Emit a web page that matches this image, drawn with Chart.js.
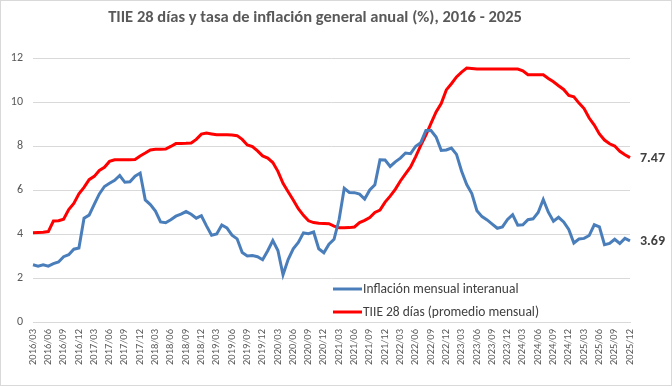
<!DOCTYPE html>
<html>
<head>
<meta charset="utf-8">
<script src="https://cdn.jsdelivr.net/npm/chart.js@4.4.1/dist/chart.umd.min.js"></script>
<style>
html,body{margin:0;padding:0;background:#fff;}
canvas{display:block;}
</style>
</head>
<body>
<canvas id="c" width="672" height="386"></canvas>
<script>
const TITLE = 'TIIE 28 días y tasa de inflación general anual (%), 2016 - 2025';
const SERIES_NAMES = ['Inflación mensual interanual', 'TIIE 28 días (promedio mensual)'];

const months = [
  '2016/03','2016/04','2016/05','2016/06','2016/07','2016/08','2016/09','2016/10','2016/11','2016/12',
  '2017/01','2017/02','2017/03','2017/04','2017/05','2017/06','2017/07','2017/08','2017/09','2017/10','2017/11','2017/12',
  '2018/01','2018/02','2018/03','2018/04','2018/05','2018/06','2018/07','2018/08','2018/09','2018/10','2018/11','2018/12',
  '2019/01','2019/02','2019/03','2019/04','2019/05','2019/06','2019/07','2019/08','2019/09','2019/10','2019/11','2019/12',
  '2020/01','2020/02','2020/03','2020/04','2020/05','2020/06','2020/07','2020/08','2020/09','2020/10','2020/11','2020/12',
  '2021/01','2021/02','2021/03','2021/04','2021/05','2021/06','2021/07','2021/08','2021/09','2021/10','2021/11','2021/12',
  '2022/01','2022/02','2022/03','2022/04','2022/05','2022/06','2022/07','2022/08','2022/09','2022/10','2022/11','2022/12',
  '2023/01','2023/02','2023/03','2023/04','2023/05','2023/06','2023/07','2023/08','2023/09','2023/10','2023/11','2023/12',
  '2024/01','2024/02','2024/03','2024/04','2024/05','2024/06','2024/07','2024/08','2024/09','2024/10','2024/11','2024/12',
  '2025/01','2025/02','2025/03','2025/04','2025/05','2025/06','2025/07','2025/08','2025/09','2025/10','2025/11','2025/12'
];

const inflation = [
  2.60, 2.54, 2.60, 2.54, 2.65, 2.73, 2.97, 3.06, 3.31, 3.36,
  4.72, 4.86, 5.35, 5.82, 6.16, 6.31, 6.44, 6.66, 6.35, 6.37, 6.63, 6.77,
  5.55, 5.34, 5.04, 4.55, 4.51, 4.65, 4.81, 4.90, 5.02, 4.90, 4.72, 4.83,
  4.37, 3.94, 4.00, 4.41, 4.28, 3.95, 3.78, 3.16, 3.00, 3.02, 2.97, 2.83,
  3.24, 3.70, 3.25, 2.15, 2.84, 3.33, 3.62, 4.05, 4.01, 4.09, 3.33, 3.15,
  3.54, 3.76, 4.67, 6.08, 5.89, 5.88, 5.81, 5.59, 6.00, 6.24, 7.37, 7.36,
  7.07, 7.28, 7.45, 7.68, 7.65, 7.99, 8.15, 8.70, 8.70, 8.41, 7.80, 7.82,
  7.91, 7.62, 6.85, 6.25, 5.84, 5.06, 4.79, 4.64, 4.45, 4.26, 4.32, 4.66,
  4.88, 4.40, 4.42, 4.65, 4.69, 4.98, 5.57, 4.99, 4.58, 4.76, 4.55, 4.21,
  3.59, 3.77, 3.80, 3.93, 4.42, 4.32, 3.51, 3.57, 3.76, 3.57, 3.80, 3.69
];

const tiie = [
  4.06, 4.07, 4.08, 4.11, 4.59, 4.60, 4.67, 5.11, 5.39, 5.83,
  6.12, 6.47, 6.62, 6.89, 7.03, 7.30, 7.37, 7.38, 7.38, 7.38, 7.39, 7.55,
  7.68, 7.82, 7.85, 7.85, 7.86, 7.98, 8.11, 8.11, 8.12, 8.14, 8.30, 8.54,
  8.59, 8.55, 8.51, 8.51, 8.51, 8.50, 8.47, 8.30, 8.05, 7.97, 7.78, 7.55,
  7.45, 7.25, 6.85, 6.30, 5.92, 5.55, 5.15, 4.85, 4.60, 4.52, 4.49, 4.48,
  4.47, 4.36, 4.28, 4.28, 4.29, 4.32, 4.52, 4.62, 4.75, 4.98, 5.09, 5.45,
  5.72, 6.03, 6.41, 6.73, 7.05, 7.52, 8.03, 8.50, 9.03, 9.55, 9.93, 10.55,
  10.83, 11.14, 11.36, 11.54, 11.52, 11.50, 11.50, 11.50, 11.50, 11.50, 11.50, 11.50,
  11.50, 11.50, 11.42, 11.24, 11.24, 11.24, 11.24, 11.07, 10.92, 10.74, 10.57, 10.30,
  10.24, 9.95, 9.70, 9.27, 8.95, 8.55, 8.27, 8.10, 8.00, 7.76, 7.60, 7.47
];

const yTicks = [0, 2, 4, 6, 8, 10, 12];
const FONT = 'Carlito, Calibri, Lato, sans-serif';

const extras = {
  id: 'extras',
  afterDraw(chart) {
    const ctx = chart.ctx;
    ctx.save();
    ctx.strokeStyle = '#d9d9d9';
    ctx.lineWidth = 1;
    ctx.strokeRect(0.5, 0.5, chart.width - 1, chart.height - 1);
    const legY = [289, 312];
    chart.data.datasets.forEach((ds, i) => {
      ctx.strokeStyle = ds.borderColor;
      ctx.lineWidth = 3;
      ctx.beginPath();
      ctx.moveTo(333, legY[i]);
      ctx.lineTo(362, legY[i]);
      ctx.stroke();
      ctx.fillStyle = '#404040';
      ctx.font = '13.5px ' + FONT;
      ctx.textAlign = 'left';
      ctx.textBaseline = 'middle';
      ctx.fillText(ds.label, 363, legY[i] + 1);
    });
    chart.data.datasets.forEach((ds, i) => {
      const meta = chart.getDatasetMeta(i);
      const pt = meta.data[meta.data.length - 1];
      const v = ds.data[ds.data.length - 1];
      ctx.fillStyle = '#404040';
      ctx.font = 'bold 14px ' + FONT;
      ctx.textAlign = 'left';
      ctx.textBaseline = 'middle';
      ctx.fillText(v.toFixed(2), pt.x + 10, pt.y + 1);
    });
    ctx.restore();
  }
};

new Chart(document.getElementById('c'), {
  type: 'line',
  data: {
    labels: months,
    datasets: [
      { label: SERIES_NAMES[0], data: inflation, borderColor: '#4a7ebb', borderWidth: 3, pointRadius: 0, tension: 0, fill: false },
      { label: SERIES_NAMES[1], data: tiie, borderColor: '#ff0000', borderWidth: 3, pointRadius: 0, tension: 0, fill: false }
    ]
  },
  options: {
    responsive: false,
    animation: false,
    devicePixelRatio: 1,
    layout: { padding: { top: 6, left: 0, right: 42, bottom: 0 } },
    plugins: {
      legend: { display: false },
      tooltip: { enabled: false },
      title: {
        display: true,
        text: TITLE,
        color: '#595959',
        font: { family: FONT, size: 16.5, weight: 'bold', lineHeight: 1.2 },
        padding: { top: 2, bottom: 30.2 }
      }
    },
    scales: {
      x: {
        type: 'category',
        offset: false,
        grid: { display: false, drawTicks: false },
        border: { display: true, color: '#d9d9d9', width: 1 },
        ticks: {
          autoSkip: false,
          minRotation: 90,
          maxRotation: 90,
          padding: 7,
          color: '#595959',
          font: { family: FONT, size: 10.5 },
          callback: function (val, idx) { return idx % 3 === 0 ? months[idx] : ''; }
        },
        afterFit: function (s) { s.height = 64; }
      },
      y: {
        min: 0,
        max: 12,
        grid: { color: '#d9d9d9', lineWidth: 1, drawTicks: false },
        border: { display: false },
        afterBuildTicks: function (s) { s.ticks = yTicks.map(v => ({ value: v })); },
        ticks: {
          padding: 10,
          color: '#595959',
          font: { family: FONT, size: 12 }
        },
        afterFit: function (s) { s.width = 33; }
      }
    }
  },
  plugins: [extras]
});
</script>
</body>
</html>
